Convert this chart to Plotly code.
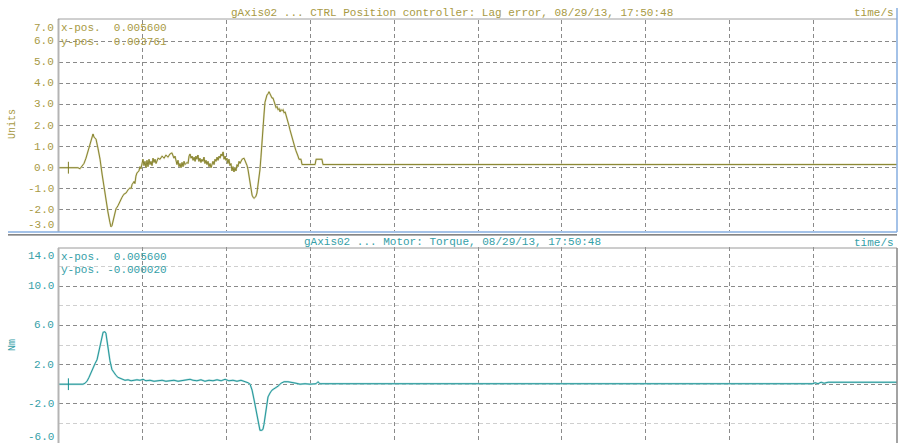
import plotly.graph_objects as go

# ---- Lag error (gAxis02, CTRL Position controller) ----
lag_t_ms = [0.0, 11.3, 12.5, 13.7, 14.9, 16.1, 17.3, 18.5, 19.7, 20.3, 20.9, 22.1, 23.3, 24.5,
            25.7, 26.9, 28.0, 29.2, 30.4, 31.0, 31.6, 32.8, 34.0, 35.2, 36.4, 37.6, 38.8, 40.0,
            41.2, 42.4, 43.0, 43.6, 44.8, 45.3, 45.9, 46.5, 47.7, 48.3, 48.9, 49.5, 50.1, 50.7,
            51.3, 51.9, 52.5, 53.1, 53.7, 54.3, 54.9, 55.5, 56.1, 56.7, 57.3, 57.9, 59.1, 60.3,
            61.5, 62.7, 63.8, 65.0, 66.2, 67.4, 68.6, 69.2, 69.8, 70.4, 71.0, 71.6, 72.2, 72.8,
            73.4, 74.0, 74.6, 75.2, 76.4, 77.0, 77.6, 78.2, 78.8, 79.4, 80.0, 80.6, 81.2, 81.7,
            82.3, 82.9, 83.5, 84.1, 84.7, 85.3, 85.9, 86.5, 87.1, 87.7, 88.3, 88.9, 89.5, 90.1,
            90.7, 91.3, 91.9, 92.5, 93.1, 93.7, 94.3, 94.9, 95.5, 96.1, 96.7, 97.3, 97.9, 98.5,
            99.1, 99.6, 100.2, 100.8, 101.4, 102.0, 102.6, 103.2, 103.8, 104.4, 105.0, 105.6,
            106.2, 106.8, 107.4, 108.0, 109.2, 110.4, 111.0, 111.6, 112.2, 112.8, 113.4, 114.0,
            114.6, 115.2, 115.8, 116.4, 117.0, 117.5, 118.1, 118.7, 119.3, 119.9, 120.5, 121.1,
            121.7, 122.3, 122.9, 123.5, 124.1, 124.7, 125.3, 125.9, 126.5, 127.1, 127.7, 128.3,
            128.9, 129.5, 130.1, 130.7, 131.3, 131.9, 132.5, 133.1, 133.7, 134.3, 134.9, 135.5,
            136.0, 136.6, 137.2, 137.8, 138.4, 139.0, 139.6, 140.2, 140.8, 141.4, 142.0, 142.6,
            143.2, 144.4, 145.0, 152.8, 153.4, 156.9, 157.5, 500.0]
lag_units = [0.0, 0.0, -0.05, 0.05, 0.2, 0.45, 0.8, 1.2, 1.5, 1.6, 1.45, 1.35, 0.9, 0.4,
             -0.3, -1.0, -1.6, -2.1, -2.6, -2.8, -2.75, -2.3, -1.95, -1.8, -1.55, -1.4, -1.25, -1.2,
             -1.05, -0.95, -1.0, -0.8, -0.65, -0.75, -0.4, -0.25, -0.15, 0.05, -0.05, 0.3, 0.4, 0.1,
             0.3, 0.0, 0.35, 0.05, 0.4, 0.15, 0.3, 0.1, 0.45, 0.25, 0.4, 0.2, 0.45, 0.4,
             0.55, 0.45, 0.6, 0.5, 0.65, 0.7, 0.45, 0.55, 0.3, 0.15, 0.35, 0.05, 0.2, 0.0,
             0.25, 0.05, 0.3, 0.15, 0.25, 0.2, 0.55, 0.65, 0.45, 0.55, 0.35, 0.5, 0.3, 0.55,
             0.4, 0.6, 0.3, 0.45, 0.25, 0.4, 0.3, 0.5, 0.2, 0.35, 0.15, 0.3, 0.05, 0.2,
             0.0, 0.15, 0.3, 0.15, 0.4, 0.3, 0.5, 0.35, 0.55, 0.45, 0.65, 0.55, 0.75, 0.4,
             0.55, 0.35, 0.45, 0.2, 0.4, 0.1, 0.2, -0.15, 0.05, -0.2, 0.0, -0.15,
             0.15, 0.05, 0.3, 0.2, 0.4, 0.45, 0.35, 0.25, 0.1, -0.1, -0.4, -0.75,
             -1.05, -1.3, -1.4, -1.45, -1.4, -1.35, -1.2, -0.9, -0.5, -0.1, 0.5, 1.3,
             1.9, 2.5, 3.1, 3.3, 3.45, 3.5, 3.6, 3.5, 3.4, 3.3, 3.3, 3.1,
             3.0, 2.85, 2.9, 2.75, 2.8, 2.65, 2.75, 2.7, 2.75, 2.6, 2.65, 2.5,
             2.35, 2.2, 2.0, 1.8, 1.6, 1.45, 1.25, 1.1, 0.95, 0.8, 0.7, 0.55,
             0.4, 0.4, 0.15, 0.15, 0.4, 0.4, 0.15, 0.15]

# ---- Motor torque ----
trq_t_ms = [0.0, 14.3, 15.5, 16.7, 17.9, 19.1, 20.3, 21.5, 22.7, 23.9, 25.1, 26.3, 27.4, 28.0,
            28.6, 29.2, 30.4, 31.6, 32.8, 34.0, 35.2, 36.4, 37.6, 39.4, 41.2, 43.0, 44.8, 46.5,
            48.3, 50.1, 51.9, 54.3, 56.7, 59.1, 61.5, 63.8, 66.2, 68.6, 71.0, 73.4, 75.8, 78.2,
            80.0, 82.3, 84.7, 87.1, 89.5, 91.9, 94.3, 96.7, 99.1, 101.4, 103.8, 106.2, 108.6, 111.0,
            112.8, 114.0, 115.2, 116.4, 117.5, 118.7, 119.3, 119.9, 121.1, 121.7, 122.3, 122.9,
            123.5, 124.1, 124.7, 125.9, 127.1, 128.9, 130.7, 132.5, 134.3, 136.6, 139.0, 141.4,
            143.8, 146.8, 149.8, 153.4, 154.5, 155.7, 449.9, 451.1, 452.9, 454.7, 456.5, 458.9, 500.0]
trq_nm = [0.0, 0.0, 0.1, 0.3, 0.7, 1.2, 1.7, 2.1, 2.5, 3.4, 4.6, 5.3, 5.35, 5.2,
          4.5, 3.6, 2.4, 1.5, 1.15, 0.9, 0.7, 0.6, 0.5, 0.4, 0.45, 0.35, 0.4, 0.45,
          0.4, 0.5, 0.35, 0.4, 0.3, 0.35, 0.4, 0.3, 0.35, 0.4, 0.3, 0.35, 0.4, 0.5,
          0.4, 0.35, 0.45, 0.3, 0.4, 0.35, 0.45, 0.35, 0.5, 0.35, 0.4, 0.3, 0.4, 0.3,
          0.15, 0.0, -0.6, -1.6, -2.6, -3.8, -4.5, -4.7, -4.7, -4.6, -4.1, -3.3,
          -2.5, -1.8, -1.3, -0.9, -0.6, -0.4, -0.2, 0.1, 0.25, 0.25, 0.2, 0.1,
          0.0, 0.05, 0.0, 0.05, 0.25, 0.05, 0.05, 0.15, 0.05, 0.2, 0.1, 0.2, 0.2]

# ---- axis ticks, cursor readout, captions ----
time_grid = [0.05, 0.10, 0.15, 0.20, 0.25, 0.30, 0.35, 0.40, 0.45]
lag_ticks = [7, 6, 5, 4, 3, 2, 1, 0, -1, -2, -3]
lag_tick_text = ["7.0", "6.0", "5.0", "4.0", "3.0", "2.0", "1.0", "0.0", "-1.0", "-2.0", "-3.0"]
trq_grid_major = [10, 6, 2, 0, -2]
trq_grid_minor = [12, 8, 4, -4]
trq_ticks = [14, 10, 6, 2, -2, -6]
trq_tick_text = ["14.0", "10.0", "6.0", "2.0", "-2.0", "-6.0"]
cursor_t = 0.0056
lag_readout = ["x-pos.  0.005600", "y-pos.  0.003761"]
trq_readout = ["x-pos.  0.005600", "y-pos. -0.000020"]
lag_title = "gAxis02 ... CTRL Position controller: Lag error, 08/29/13, 17:50:48"
trq_title = "gAxis02 ... Motor: Torque, 08/29/13, 17:50:48"

W, H = 901, 443
OLIVE_TXT = "#a89a44"
OLIVE_LINE = "#7e7a20"
OLIVE_HALO = "#e0ddbc"
TEAL_TXT = "#35a0a8"
TEAL_LINE = "#138f92"
TEAL_HALO = "#b4dede"
GRID = "#8a8a8a"
GRID_LIGHT = "#cfcfcf"
FONT = "Liberation Mono"


def px(x):
    return x / W


def py(y):
    return 1 - y / H


lag_t = [v / 1000 for v in lag_t_ms]
trq_t = [v / 1000 for v in trq_t_ms]

fig = go.Figure()
fig.add_trace(go.Scatter(x=lag_t, y=lag_units, mode="lines", xaxis="x", yaxis="y",
                         line=dict(color=OLIVE_HALO, width=1.9), hoverinfo="skip"))
fig.add_trace(go.Scatter(x=lag_t, y=lag_units, mode="lines", xaxis="x", yaxis="y",
                         line=dict(color=OLIVE_LINE, width=0.9)))
fig.add_trace(go.Scatter(x=trq_t, y=trq_nm, mode="lines", xaxis="x2", yaxis="y2",
                         line=dict(color=TEAL_HALO, width=1.9), hoverinfo="skip"))
fig.add_trace(go.Scatter(x=trq_t, y=trq_nm, mode="lines", xaxis="x2", yaxis="y2",
                         line=dict(color=TEAL_LINE, width=0.9)))

xdom = [px(59), px(897)]
dash = "4px,3px"
common_x = dict(domain=xdom, range=[0, 0.5], tickvals=time_grid, showticklabels=False,
                showgrid=True, gridcolor=GRID, griddash=dash, gridwidth=1,
                zeroline=False, showline=False, ticks="", fixedrange=True)

fig.update_layout(
    width=W, height=H,
    margin=dict(l=0, r=0, t=0, b=0),
    paper_bgcolor="white", plot_bgcolor="white",
    showlegend=False,
    font=dict(family=FONT, size=11),
    xaxis=dict(anchor="y", **common_x),
    xaxis2=dict(anchor="y2", **common_x),
    yaxis=dict(domain=[py(231), py(20)], range=[-3, 7], tickvals=lag_ticks[1:-1],
               showticklabels=False, showgrid=True, gridcolor=GRID, griddash=dash,
               zeroline=False, showline=False, ticks="", anchor="x"),
    yaxis2=dict(domain=[0, py(247)], range=[-6, 14], tickvals=trq_grid_major,
                showticklabels=False, showgrid=True, gridcolor=GRID, griddash=dash,
                minor=dict(tickvals=trq_grid_minor, showgrid=True, gridcolor=GRID_LIGHT,
                           griddash=dash, gridwidth=1, ticks=""),
                zeroline=False, showline=False, ticks="", anchor="x2"),
)

shapes = []


def seg(x0, y0, x1, y1, color, width=1):
    shapes.append(dict(type="line", xref="paper", yref="paper",
                       x0=px(x0), y0=py(y0), x1=px(x1), y1=py(y1),
                       line=dict(color=color, width=width)))


# panel frames
seg(58.5, 19, 58.5, 232, "#b4b4b4", 2)
seg(58, 19, 897, 19, "#a0a0a0", 1)
seg(897, 8, 897, 232, "#86aee0", 1.5)
seg(8, 232, 897, 232, "#86aee0", 1.5)
seg(8, 234.8, 897, 234.8, "#5e5e5e", 1.3)
seg(58, 248, 897, 248, "#9a9a9a", 1)
seg(58.5, 248, 58.5, 443, "#b4b4b4", 2)
seg(897, 248, 897, 443, "#858585", 1.5)

# cursor markers
shapes.append(dict(type="line", xref="x", yref="y", x0=cursor_t, x1=cursor_t, y0=-0.28, y1=0.28,
                   line=dict(color=OLIVE_LINE, width=1)))
shapes.append(dict(type="line", xref="x2", yref="y2", x0=cursor_t, x1=cursor_t, y0=-0.6, y1=0.6,
                   line=dict(color=TEAL_LINE, width=1)))
fig.update_layout(shapes=shapes)

ann = []


def text(x, y, s, color, anchor="left", size=11, angle=0):
    ann.append(dict(xref="paper", yref="paper", x=px(x), y=py(y), text=s, showarrow=False,
                    xanchor=anchor, yanchor="middle", textangle=angle,
                    font=dict(family=FONT, size=size, color=color)))


# y tick labels (end labels sit inside the frame)
lag_shift = {7: 8, -3: -6}
for v, s in zip(lag_ticks, lag_tick_text):
    ann.append(dict(xref="paper", yref="y", x=px(56), y=v, text=s, showarrow=False,
                    xanchor="right", yanchor="middle", yshift=-lag_shift.get(v, 0),
                    font=dict(family=FONT, size=11, color=OLIVE_TXT)))
trq_shift = {14: 9, -6: -6}
for v, s in zip(trq_ticks, trq_tick_text):
    ann.append(dict(xref="paper", yref="y2", x=px(56), y=v, text=s, showarrow=False,
                    xanchor="right", yanchor="middle", yshift=-trq_shift.get(v, 0),
                    font=dict(family=FONT, size=11, color=TEAL_TXT)))

text(452, 13, lag_title, OLIVE_TXT, "center")
text(896, 13, "time/s", OLIVE_TXT, "right")
text(452, 242, trq_title, TEAL_TXT, "center")
text(896, 243, "time/s", TEAL_TXT, "right")
text(59, 28, lag_readout[0], OLIVE_TXT)
text(59, 42, lag_readout[1], OLIVE_TXT)
text(59, 257, trq_readout[0], TEAL_TXT)
text(59, 270, trq_readout[1], TEAL_TXT)
text(12, 124, "Units", OLIVE_TXT, "center", 10, -90)
text(12, 345, "Nm", TEAL_TXT, "center", 10, -90)
fig.update_layout(annotations=ann)

fig.write_html("out.html")
